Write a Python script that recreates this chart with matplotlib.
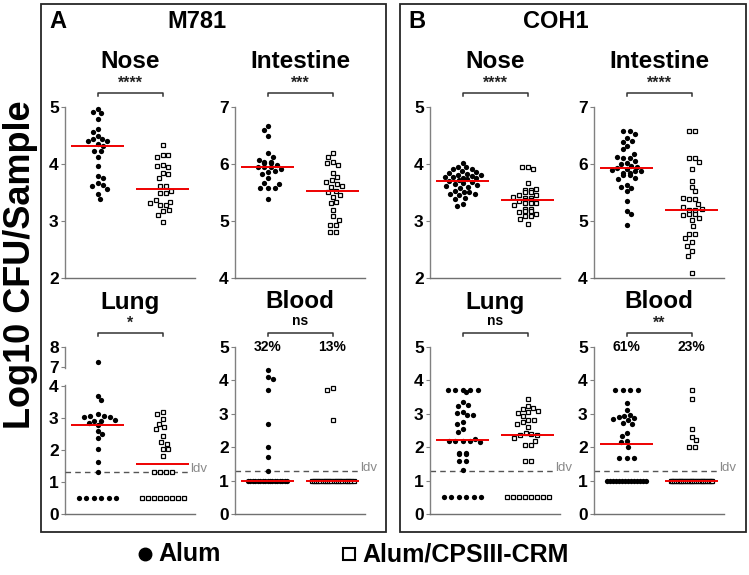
import numpy as np
import matplotlib
matplotlib.use("Agg")
import matplotlib.pyplot as plt
from matplotlib.lines import Line2D
from matplotlib.patches import Rectangle

# ---------------- data ----------------
groups = ["Alum", "Alum/CPSIII-CRM"]
strains = ["M781", "COH1"]
panel_letters = ["A", "B"]
tissues = ["Nose", "Intestine", "Lung", "Blood"]

m781_nose_alum = [4.97, 4.92, 4.89, 4.79, 4.61, 4.56, 4.49, 4.44, 4.43, 4.41, 4.40, 4.35, 4.31,
                  4.22, 4.22, 4.12, 3.97, 3.79, 3.75, 3.66, 3.63, 3.62, 3.57, 3.47, 3.38]
m781_nose_crm = [4.34, 4.16, 4.15, 4.12, 3.98, 3.97, 3.94, 3.84, 3.82, 3.75, 3.61, 3.61,
                 3.53, 3.49, 3.49, 3.36, 3.34, 3.32, 3.28, 3.28, 3.19, 3.18, 3.11, 2.98]
m781_int_alum = [6.66, 6.59, 6.50, 6.19, 6.12, 6.07, 6.03, 6.03, 6.01, 6.01, 5.98, 5.95, 5.95,
                 5.94, 5.91, 5.88, 5.86, 5.82, 5.76, 5.66, 5.65, 5.58, 5.58, 5.58, 5.39]
m781_int_crm = [6.19, 6.12, 6.04, 6.01, 5.99, 5.85, 5.78, 5.72, 5.69, 5.65, 5.62, 5.60, 5.53,
                5.51, 5.46, 5.42, 5.34, 5.32, 5.19, 5.08, 5.01, 4.93, 4.93, 4.81, 4.81]
m781_lung_alum = [7.26, 3.69, 3.55, 3.13, 3.07, 3.05, 3.03, 3.02, 2.95, 2.92, 2.92, 2.85, 2.77,
                  2.59, 2.51, 2.38, 2.02, 1.63, 1.30, 0.5, 0.5, 0.5, 0.5, 0.5, 0.5]
m781_lung_crm = [3.18, 3.12, 2.97, 2.81, 2.71, 2.66, 2.43, 2.25, 2.20, 2.04, 2.02, 1.81,
                 1.3, 1.3, 1.3, 1.3, 0.5, 0.5, 0.5, 0.5, 0.5, 0.5, 0.5, 0.5]
m781_blood_alum = [4.30, 4.10, 4.03, 3.72, 2.70, 2.02, 1.70, 1.30] + [1.0] * 17
m781_blood_crm = [3.78, 3.70, 2.80] + [1.0] * 20

coh1_nose_alum = [4.01, 3.95, 3.94, 3.92, 3.91, 3.88, 3.86, 3.85, 3.83, 3.81, 3.80, 3.79,
                  3.78, 3.77, 3.76, 3.75, 3.73, 3.72, 3.70, 3.68, 3.66, 3.65, 3.63, 3.62,
                  3.60, 3.58, 3.53, 3.51, 3.50, 3.48, 3.47, 3.45, 3.41, 3.38, 3.30, 3.27]
coh1_nose_crm = [3.95, 3.94, 3.92, 3.66, 3.56, 3.55, 3.55, 3.50, 3.50, 3.46, 3.45, 3.42, 3.41,
                 3.41, 3.36, 3.36, 3.35, 3.32, 3.31, 3.31, 3.28, 3.21, 3.21, 3.18, 3.18, 3.15,
                 3.12, 3.09, 3.09, 3.03, 2.95]
coh1_int_alum = [6.58, 6.58, 6.52, 6.45, 6.41, 6.38, 6.32, 6.26, 6.17, 6.13, 6.10, 6.10,
                 6.05, 6.02, 6.00, 5.97, 5.95, 5.93, 5.92, 5.90, 5.88, 5.87, 5.84, 5.84,
                 5.80, 5.80, 5.76, 5.74, 5.63, 5.60, 5.58, 5.52, 5.35, 5.17, 5.12, 4.93]
coh1_int_crm = [6.58, 6.58, 6.10, 6.10, 6.03, 5.92, 5.71, 5.60, 5.52, 5.40, 5.38, 5.38, 5.29,
                5.24, 5.21, 5.19, 5.19, 5.12, 5.12, 5.10, 5.05, 5.02, 4.92, 4.78, 4.78, 4.70,
                4.63, 4.57, 4.48, 4.39, 4.09]
coh1_lung_alum = [3.70] * 5 + [3.66, 3.34, 3.27, 3.23, 3.05, 3.02, 2.97, 2.95, 2.75, 2.68,
                               2.55, 2.45, 2.26, 2.20, 2.20, 2.20, 2.18, 2.16, 1.82, 1.82,
                               1.80, 1.80, 1.60, 1.60, 1.32] + [0.5] * 6
coh1_lung_crm = [3.44, 3.23, 3.18, 3.13, 3.08, 3.05, 3.03, 2.93, 2.82, 2.80, 2.74, 2.68, 2.59,
                 2.42, 2.39, 2.37, 2.36, 2.29, 2.20, 2.07, 2.07, 1.59, 1.59] + [0.5] * 8
coh1_blood_alum = [3.72] * 4 + [3.31, 3.11, 2.97, 2.93, 2.90, 2.88, 2.85, 2.80, 2.73, 2.70,
                                2.44, 2.35, 2.18, 2.15, 2.02, 1.69, 1.69, 1.69] + [1.0] * 14
coh1_blood_crm = [3.72, 3.43, 2.55, 2.32, 2.21, 2.02, 2.02] + [1.0] * 24

sig_m781 = ["****", "***", "*", "ns"]
sig_coh1 = ["****", "****", "ns", "**"]

ylims = {"Nose": (2, 5), "Intestine": (4, 7), "Lung": (0, 5), "Blood": (0, 5)}
lung_m781_ticks = [0, 1, 2, 3, 4, 7, 8]
lod = 1.3
blood_floor = 1.0

# ---------------- layout (pixels) ----------------
W, H, DPI = 749, 575, 100
fig = plt.figure(figsize=(W / DPI, H / DPI), dpi=DPI)
plt.rcParams["font.family"] = ["Liberation Sans", "DejaVu Sans"]

AX_W = 130
col_x = [[65, 235], [430, 594]]
row_y = [(107, 278), (347, 514)]
boxes = [(41, 4, 386, 532), (400, 4, 746, 532)]


def rect(x0, y0, x1, y1):
    return [x0 / W, 1 - y1 / H, (x1 - x0) / W, (y1 - y0) / H]


def brk_fwd(v):
    v = np.asarray(v, dtype=float)
    return np.where(v <= 4, v, np.where(v >= 7, 4.6 + (v - 7) * 0.62, 4 + (v - 4) * 0.2))


def brk_inv(u):
    u = np.asarray(u, dtype=float)
    return np.where(u <= 4, u, np.where(u >= 4.6, 7 + (u - 4.6) / 0.62, 4 + (u - 4) / 0.2))


def swarm_x(ax, values, xc, coll, row_sp, max_w):
    vals = np.asarray(values, dtype=float)
    n = len(vals)
    half = max_w / 2
    ypx = ax.transData.transform(np.column_stack([np.full(n, xc), vals]))[:, 1]
    x0 = ax.transData.transform((xc, vals[0]))[0]
    off = np.full(n, np.nan)
    uv, cnt = np.unique(vals, return_counts=True)
    for u, c in zip(uv, cnt):
        if c >= 2:
            idx = np.where(vals == u)[0]
            s = min(row_sp, max_w / (c - 1))
            for k, i in enumerate(idx):
                off[i] = (k - (c - 1) / 2) * s
    order = np.argsort(-vals, kind="stable")
    flip = 1
    for i in order:
        if not np.isnan(off[i]):
            continue
        placed = np.where(~np.isnan(off))[0]
        chosen = None
        for cd in (coll, coll * 0.85, coll * 0.7, coll * 0.55):
            cands = [0.0]
            forb = []
            for j in placed:
                dy = abs(ypx[i] - ypx[j])
                if dy < cd:
                    hw = np.sqrt(cd ** 2 - dy ** 2)
                    forb.append((off[j] - hw, off[j] + hw))
                    cands += [off[j] - hw, off[j] + hw]
            cands = sorted(set(cands), key=lambda c: (abs(c), -flip * c))
            for c in cands:
                if all(not (a + 1e-6 < c < b - 1e-6) for a, b in forb):
                    if abs(c) <= half:
                        chosen = c
                    break
            if chosen is not None:
                break
        if chosen is None:
            chosen = flip * half
        off[i] = chosen
        flip = -flip
    return ax.transData.inverted().transform(np.column_stack([x0 + off, ypx]))[:, 0]


def style_axis(ax, tissue, broken=False):
    ax.set_xlim(-0.5, 1.5)
    for s in ["top", "right"]:
        ax.spines[s].set_visible(False)
    ax.spines["bottom"].set_color("#707070")
    ax.spines["left"].set_color("#808080")
    ax.spines["bottom"].set_linewidth(1.0)
    ax.spines["left"].set_linewidth(1.0)
    ax.set_xticks([])
    ax.tick_params(axis="y", length=3, width=0.8, color="#808080", pad=1.5)
    if broken:
        ax.set_yscale("function", functions=(brk_fwd, brk_inv))
        ax.set_ylim(0, 8)
        ticks = lung_m781_ticks
        ax.spines["left"].set_visible(False)
        tr = ax.get_yaxis_transform()
        ax.plot([0, 0], [0, 4.12], transform=tr, color="#808080", lw=1.0, clip_on=False)
        ax.plot([0, 0], [6.85, 8], transform=tr, color="#808080", lw=1.0, clip_on=False)
    else:
        lo, hi = ylims[tissue]
        ax.set_ylim(lo, hi)
        ticks = list(range(lo, hi + 1))
    ax.set_yticks(ticks)
    ax.set_yticklabels([str(t) for t in ticks], fontsize=12.5, fontweight="bold")
    ax.yaxis.set_minor_locator(matplotlib.ticker.NullLocator())


def above(ax, px):
    h = ax.get_position().height * H
    return 1 + px / h


data = {
    "M781": [(m781_nose_alum, m781_nose_crm), (m781_int_alum, m781_int_crm),
             (m781_lung_alum, m781_lung_crm), (m781_blood_alum, m781_blood_crm)],
    "COH1": [(coh1_nose_alum, coh1_nose_crm), (coh1_int_alum, coh1_int_crm),
             (coh1_lung_alum, coh1_lung_crm), (coh1_blood_alum, coh1_blood_crm)],
}
sigs = {"M781": sig_m781, "COH1": sig_coh1}

for si, strain in enumerate(strains):
    bx0, by0, bx1, by1 = boxes[si]
    fig.add_artist(Rectangle((bx0 / W, 1 - by1 / H), (bx1 - bx0) / W, (by1 - by0) / H,
                             transform=fig.transFigure, fill=False, ec="#262626", lw=1.3))
    fig.text((bx0 + 8) / W, 1 - 22 / H, panel_letters[si], fontsize=17, fontweight="bold",
             ha="left", va="center")
    fig.text((bx0 + 156) / W, 1 - 22 / H, strain, fontsize=17, fontweight="bold",
             ha="center", va="center")
    for ti, tissue in enumerate(tissues):
        r, c = divmod(ti, 2)
        x0 = col_x[si][c]
        y0, y1 = row_y[r]
        ax = fig.add_axes(rect(x0, y0, x0 + AX_W, y1))
        ax.patch.set_alpha(0)
        broken = (strain == "M781" and tissue == "Lung")
        style_axis(ax, tissue, broken)

        alum, crm = data[strain][ti]
        xa = swarm_x(ax, alum, 0, 5.6, 7.5, 39)
        xc = swarm_x(ax, crm, 1, 6.0, 6.0, 42)
        ax.plot(xa, alum, ls="", marker="o", ms=3.8, color="black", mec="black", mew=0,
                clip_on=False, zorder=3)
        ax.plot(xc, crm, ls="", marker="s", ms=3.5, mfc="white", mec="black", mew=0.9,
                clip_on=False, zorder=3)
        for g, vals in enumerate((alum, crm)):
            ax.hlines(np.median(vals), g - 0.41, g + 0.41, color="#ee0000", lw=1.4, zorder=5)

        ax.annotate(tissue, xy=(0.5, 1), xycoords=ax.get_xaxis_transform(),
                    xytext=(0, 45 * 72 / DPI), textcoords="offset points",
                    ha="center", va="center", fontsize=17.5, fontweight="bold")
        yb = above(ax, 14.5)
        ytk = above(ax, 11.5)
        ax.plot([0, 0, 1, 1], [ytk, yb, yb, ytk], transform=ax.get_xaxis_transform(),
                color="#333333", lw=1.1, clip_on=False)
        lab = sigs[strain][ti]
        if lab == "ns":
            ax.text(0.5, above(ax, 19), lab, transform=ax.get_xaxis_transform(),
                    ha="center", va="bottom", fontsize=10, fontweight="bold")
        else:
            ax.text(0.5, above(ax, 16), lab, transform=ax.get_xaxis_transform(),
                    ha="center", va="bottom", fontsize=11.5, fontweight="bold", color="#222222")

        if tissue in ("Lung", "Blood"):
            ax.hlines(lod, -0.5, 1.40, colors="#555555", linestyles=(0, (4, 3)), lw=1.0,
                      zorder=2, clip_on=False)
            ax.text(1.42, lod, "ldv", ha="left", va="baseline", fontsize=9.5,
                    color="#8a8a8a", clip_on=False)
        if tissue == "Blood":
            for g, vals in enumerate((alum, crm)):
                pct = int(round(100 * np.mean(np.asarray(vals) > blood_floor)))
                ax.text(g, 1.0, f"{pct}%", transform=ax.get_xaxis_transform(),
                        ha="center", va="center", fontsize=10, fontweight="bold")

fig.text(21 / W, 1 - 265 / H, "Log10 CFU/Sample", rotation=90, ha="center", va="center",
         fontsize=26, fontweight="bold")

# legend
leg_y = 1 - 554 / H
leg_items = [(145, "o", dict(color="black", ms=9)),
             (349, "s", dict(mfc="white", mec="black", mew=1.5, ms=8.5))]
for (lx, mk, kw), name in zip(leg_items, groups):
    fig.add_artist(Line2D([lx / W], [leg_y], transform=fig.transFigure, ls="", marker=mk, **kw))
    fig.text((lx + 13) / W, leg_y, name, ha="left", va="center", fontsize=18,
             fontweight="bold")

fig.savefig("out.png", dpi=DPI)
